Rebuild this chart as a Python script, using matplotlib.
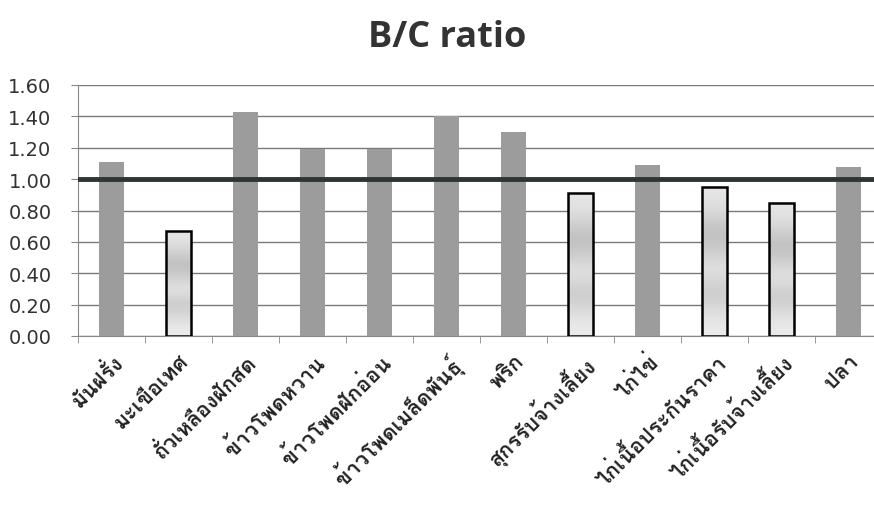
import numpy as np
import matplotlib
matplotlib.use("Agg")
import matplotlib.pyplot as plt
from matplotlib import font_manager
from fontTools.ttLib import TTFont

categories = ["มันฝรั่ง", "มะเขือเทศ", "ถั่วเหลืองฝักสด", "ข้าวโพดหวาน",
              "ข้าวโพดฝักอ่อน", "ข้าวโพดเมล็ดพันธุ์", "พริก", "สุกรรับจ้างเลี้ยง",
              "ไก่ไข่", "ไก่เนื้อประกันราคา", "ไก่เนื้อรับจ้างเลี้ยง", "ปลา"]
bc_ratio = [1.11, 0.67, 1.43, 1.19, 1.19, 1.40, 1.30, 0.91, 1.09, 0.95, 0.85, 1.08]
break_even = 1.0
yticks = [0.0, 0.2, 0.4, 0.6, 0.8, 1.0, 1.2, 1.4, 1.6]


# find an installed font that has Thai glyphs
def thai_font():
    for f in font_manager.fontManager.ttflist:
        try:
            tt = TTFont(f.fname, fontNumber=0, lazy=True)
            if 0x0E01 in tt.getBestCmap():
                return f.name
        except Exception:
            pass
    return "DejaVu Sans"


thai = thai_font()

fig = plt.figure(figsize=(8.74, 5.06), dpi=100)
ax = fig.add_axes([78 / 874, 169 / 506, 804 / 874, 251 / 506])

x = np.arange(len(categories))
colors = ["#9c9c9c" if v >= break_even else "#d8d8d8" for v in bc_ratio]
bars = ax.bar(x, bc_ratio, width=0.38, color=colors, zorder=3)

# bars under break-even: outlined with a light banded gradient
grad = np.array([0.90, 0.84, 0.74, 0.80, 0.90, 0.78, 0.85, 0.92])[:, None]
for b, v in zip(bars, bc_ratio):
    if v < break_even:
        b.set_edgecolor("black")
        b.set_linewidth(1.8)
        im = ax.imshow(grad, cmap="gray", vmin=0, vmax=1, aspect="auto",
                       extent=[b.get_x(), b.get_x() + b.get_width(), 0, v],
                       zorder=3.5, interpolation="bicubic")
        im.set_clip_path(b)
        b.set_facecolor("none")
        b.set_zorder(4)

ax.axhline(break_even, color="#2f3531", lw=3.5, zorder=5)

ax.set_xlim(-0.5, len(categories) - 0.5)
ax.set_ylim(0, 1.6)
ax.set_yticks(yticks)
ax.set_yticklabels([f"{t:.2f}" for t in yticks], fontsize=14, color="#333333")
ax.yaxis.grid(True, color="#7a7a7a", lw=1)
ax.set_axisbelow(True)

ax.set_xticks(x)
ax.set_xticklabels(categories, rotation=45, ha="right", va="top",
                   rotation_mode="anchor", fontsize=15.5, fontweight="bold",
                   color="#222222", family=[thai, "DejaVu Sans"])
ax.set_xticks(np.arange(len(categories) + 1) - 0.5, minor=True)
ax.tick_params(axis="x", which="major", length=0, pad=10)
ax.tick_params(axis="x", which="minor", length=5, color="#888888")
ax.tick_params(axis="y", length=5, color="#888888", pad=14)

for s in ["top", "right"]:
    ax.spines[s].set_visible(False)
ax.spines["left"].set_color("#888888")
ax.spines["bottom"].set_color("#888888")

fig.text(0.512, 0.925, "B/C ratio", ha="center", va="center", fontsize=26,
         fontweight="bold", color="#333333", family="Open Sans")

fig.savefig("out.png", dpi=100)
